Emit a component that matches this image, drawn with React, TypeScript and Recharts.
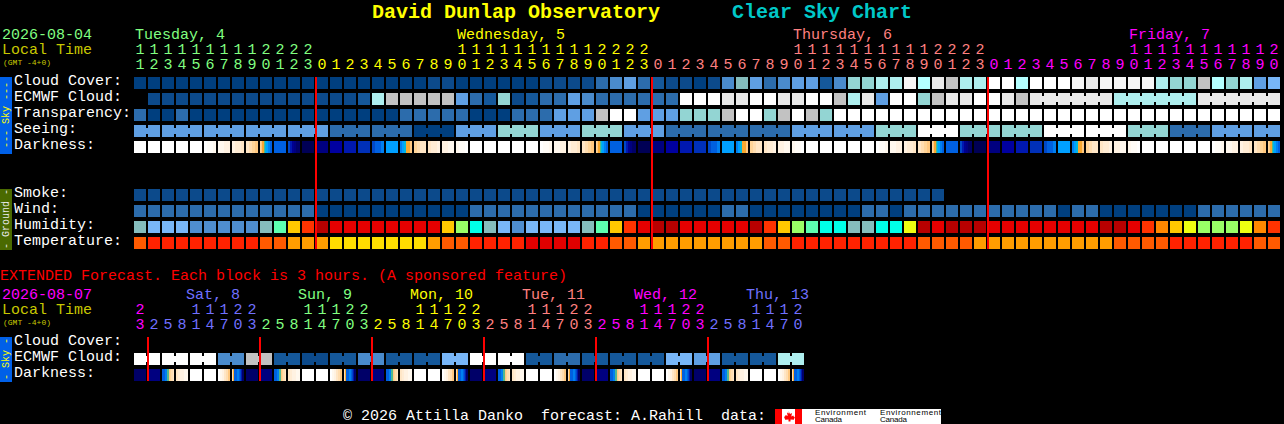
import React from 'react';
import { ScatterChart, Scatter, XAxis, YAxis, ReferenceLine } from 'recharts';

// ---------- shades (styles, looked up by level) ----------
const SKY = ['#003f7f','#0c4a8b','#15589a','#2c6cac','#4a8bcc','#5f9fe3','#78b6f7','#85bdbd','#93d5d3','#aeeeee','#b4ffff','#c2c2c2','#e9e9e9','#f6f6f6','#ffffff'];
const DARK = ['#ffffff','#fffcf7','#fff8ee','#fff2e2','#ffecd4','#ffe6c6','#ffddb0','#ffd498','#ffc880','#f8a830','#50b890','#00b8e0','#00a0ff','#0080f0','#0060e0','#0048c8','#0030b8','#0018b0','#0000a0','#000090','#000080','#000068','#000055'];
const HUM = ['#79b7f7','#4f8ed0','#85bdbd','#5dffb0','#00ffe8','#99ff66','#eeff11','#ffc800','#ff8800','#ff3300','#e60000','#b80000'];
const TEMP = ['#e00000','#ff2200','#ff5a00','#ff9d00','#ffdd00'];

// ---------- main forecast rows, one value per hour ----------
const hoursMain = [11,12,13,14,15,16,17,18,19,20,21,22,23,
  0,1,2,3,4,5,6,7,8,9,10,11,12,13,14,15,16,17,18,19,20,21,22,23,
  0,1,2,3,4,5,6,7,8,9,10,11,12,13,14,15,16,17,18,19,20,21,22,23,
  0,1,2,3,4,5,6,7,8,9,10,11,12,13,14,15,16,17,18,19,20];
const cloudCover = [0,0,0,0,0,0,0,0,0,0,0,0,0,0,0,0,0,0,0,0,0,1,1,0,0,0,0,0,0,1,1,1,1,3,4,5,3,2,1,1,0,1,4,7,5,3,4,5,5,2,4,8,8,9,9,13,10,12,11,9,9,14,14,10,14,14,14,13,12,13,13,13,13,9,8,8,11,10,8,9,5,6];
const ecmwfCloud = [null,1,1,1,1,1,1,1,1,1,1,1,1,1,1,1,2,9,11,11,11,11,11,5,3,2,8,1,2,3,3,5,4,3,3,3,3,3,3,14,14,14,12,12,14,14,12,12,14,14,11,9,12,5,14,14,8,11,12,12,14,14,12,11,12,12,12,12,12,12,9,9,9,9,9,9,12,12,12,12,12,12];
const ecmwfRuns = [1,1,1,1,1,1,1,1,1,1,1,1,1,1,1,1,1,1,1,1,1,1,1,1,1,1,1,1,1,1,1,1,1,1,1,1,1,1,1,1,1,1,1,1,1,1,1,1,1,1,1,1,1,1,1,1,1,1,1,1,1,1,1,1,6,6,6];
const transparency = [3,0,0,3,0,0,0,0,0,0,0,0,0,0,0,0,0,0,0,3,3,3,3,3,0,0,0,3,3,3,5,5,5,11,14,14,5,5,5,8,8,8,11,14,14,8,11,14,11,8,14,14,14,14,14,14,14,14,14,14,14,14,14,14,14,14,14,14,14,14,14,14,14,14,14,14,14,14,14,14,14,14];
const seeing = [5,5,5,5,5,5,5,5,5,5,5,5,5,5,3,3,3,3,3,3,0,0,0,5,5,5,8,8,8,5,5,5,8,8,8,5,5,5,3,3,3,3,3,3,3,3,3,5,5,5,5,5,5,8,8,8,14,14,14,8,8,8,8,8,8,14,14,14,14,14,14,8,8,8,3,3,3,5,5,5,5,5];
const seeingRuns = [2,3,3,3,3,3,3,3,3,3,3,3,3,3,3,3,3,3,3,3,3,3,3,3,3,3,3,2];
const dusk = [7,8,9,9,10,11,12,12,13,13,14,14];
const dawn = [13,12,11,9,9,8];
const darkness = [
  [0],[0],[0],[0],[0],[0,1,1,2],[2,2,3,3],[3,4,4,5],[5,6,7,8],dusk,[14],[15,17,19,20,21,21],[22],[20],[18],[17],[16],[15,14,14,13],[12],dawn,[7,6,5,5],[5,4,4,3],[3,3,2,2],[2,1,1,0],
  [0],[0],[0],[0],[0],[0,1,1,2],[2,2,3,3],[3,4,4,5],[5,6,7,8],dusk,[14],[15,17,19,20,21,21],[22],[20],[18],[17],[16],[15,14,14,13],[12],dawn,[7,6,5,5],[5,4,4,3],[3,3,2,2],[2,1,1,0],
  [0],[0],[0],[0],[0],[0,1,1,2],[2,2,3,3],[3,4,4,5],[5,6,7,8],dusk,[14],[15,17,19,20,21,21],[22],[20],[18],[17],[16],[15,14,14,13],[12],dawn,[7,6,5,5],[5,4,4,3],[3,3,2,2],[2,1,1,0],
  [0],[0],[0],[0],[0],[0,1,1,2],[2,2,3,3],[3,4,4,5],[5,6,7,8],dusk,
];
const smoke = [1,1,1,1,1,1,1,1,1,1,1,1,1,1,1,1,1,1,1,1,1,1,1,1,1,1,1,1,1,1,1,1,1,1,1,1,1,1,1,1,1,1,1,1,1,1,1,1,1,1,1,1,1,1,1,1,1,1];
const wind = [3,3,3,3,3,3,3,3,3,3,3,3,3,0,0,0,0,0,0,0,0,0,0,0,3,3,3,3,3,3,3,3,3,3,3,3,0,0,0,0,0,0,3,3,0,0,0,0,0,0,0,0,3,3,0,3,3,3,3,3,3,3,3,3,3,3,0,3,3,0,0,0,0,0,0,0,3,3,3,3,3,3];
const humidity = [2,0,0,0,1,1,1,1,1,2,3,7,9,11,10,10,10,10,10,10,10,10,7,5,4,2,0,1,0,0,0,0,2,3,7,9,10,11,11,10,10,10,10,10,11,9,7,5,3,4,4,2,2,4,4,6,11,10,11,11,11,10,10,10,10,10,10,10,10,11,11,10,9,8,7,6,5,5,5,6,8,9];
const temperature = [2,1,1,1,1,1,1,1,1,2,2,3,3,3,4,4,4,4,4,4,4,3,2,2,1,1,1,1,0,0,0,0,1,1,2,2,3,3,3,3,3,3,3,3,3,2,2,1,1,1,1,1,1,1,1,1,2,2,2,2,3,3,3,3,3,3,3,3,3,3,2,2,2,2,1,1,1,1,1,1,2,2];

// ---------- extended forecast rows, one value per 3-hour block ----------
const hoursExt = [23,2,5,8,11,14,17,20,23,2,5,8,11,14,17,20,23,2,5,8,11,14,17,20,23,2,5,8,11,14,17,20,23,2,5,8,11,14,17,20,23,2,5,8,11,14,17,20];
const ecmwfExt = [14,14,14,14,14,14,4,4,11,11,2,2,1,1,2,2,4,4,2,2,2,2,6,6,14,14,14,14,2,2,3,3,2,2,2,2,2,2,6,6,5,5,2,2,2,2,9,9];
const ecmwfExtRuns = [2,2,2,2,2,2,2,2,2,2,2,2,2,2,2,2,2,2,2,2,2,2,2,2];
const extDawn = [14,14,14,13,13,10,10,8,7,6,6,5];
const extDusk = [6,9,14,14,14,13,13,14,15,17,21,21];
const darknessExt = [
  [21],[20],extDawn,[5,4,3,3,2,2],[0],[0],[0,2,3,5,6,8],extDusk,
  [21],[20],extDawn,[5,4,3,3,2,2],[0],[0],[0,2,3,5,6,8],extDusk,
  [21],[20],extDawn,[5,4,3,3,2,2],[0],[0],[0,2,3,5,6,8],extDusk,
  [21],[20],extDawn,[5,4,3,3,2,2],[0],[0],[0,2,3,5,6,8],extDusk,
  [21],[20],extDawn,[5,4,3,3,2,2],[0],[0],[0,2,3,5,6,8],extDusk,
  [21],[20],extDawn,[5,4,3,3,2,2],[0],[0],[0,2,3,5,6,8],extDusk,
];

// ---------- labels ----------
const mainDays = ['Tuesday, 4','Wednesday, 5','Thursday, 6','Friday, 7'];
const mainDayCols = [0, 23, 47, 71];
const mainDaySpans = [13, 24, 24, 21];
const extDays = ['Sat, 8','Sun, 9','Mon, 10','Tue, 11','Wed, 12','Thu, 13'];
const extDayCols = [3.65, 11.65, 19.65, 27.65, 35.65, 43.65];
const extDaySpans = [1, 8, 8, 8, 8, 8, 7];
const midnightsMain = [13, 37, 61];
const midnightsExt = [1, 9, 17, 25, 33, 41];
const rowTicks = [0, 1, 2, 3, 4, 7, 8, 9, 10, 16.25, 17.25, 18.25];
const rowNames = ['Cloud Cover:','ECMWF Cloud:','Transparency:','Seeing:','Darkness:','Smoke:','Wind:','Humidity:','Temperature:','Cloud Cover:','ECMWF Cloud:','Darkness:'];

// ---------- colours of the day bands ----------
const MAIN_DAY_COLORS = ['#80ff80', '#ffff00', '#ff8080', '#ff00ff'];
const EXT_DAY_COLORS = ['#ff00ff', '#7070ff', '#80ff80', '#ffff00', '#ff8080', '#ff00ff', '#7070ff'];

// ---------- geometry ----------
const W = 1284, H = 424;
const PITCH_X = 14, CELL = 12;
const FONT = '"Liberation Mono", monospace';

const joinsOf = (runs: number[]) => {
  const out: boolean[] = [];
  runs.forEach((n) => { for (let i = 0; i < n; i++) out.push(i < n - 1); });
  return out;
};
const cellRow = (y: number, vals: any[], runs?: number[]) => {
  const joins = runs ? joinsOf(runs) : [];
  return vals.map((v, x) => ({ x, y, levels: Array.isArray(v) ? v : v === null ? [] : [v], join: !!joins[x] }));
};

const CellMark = ({ cx, cy, payload, palette }: any) => {
  const ls: number[] = payload.levels;
  if (!ls.length) return null;
  const w = CELL / ls.length;
  return (
    <g shapeRendering="crispEdges">
      {ls.map((l, i) => <rect key={i} x={cx + i * w} y={cy} width={w + (i < ls.length - 1 ? 0.3 : 0)} height={CELL} fill={palette[l]} />)}
      {payload.join && <rect x={cx + CELL} y={cy + 3} width={PITCH_X - CELL} height={CELL / 2} fill={palette[ls[ls.length - 1]]} />}
    </g>
  );
};
const TextMark = ({ cx, cy, payload }: any) => (
  <text x={cx + (payload.anchor === 'start' ? 1 : CELL / 2)} y={cy} fill={payload.color} fontFamily={FONT} fontSize={15}
    textAnchor={payload.anchor} style={{ whiteSpace: 'pre' }}>{payload.text}</text>
);
const RowTick = ({ y, payload }: any) => (
  <text x={14} y={y + 8} fill="#ffffff" fontFamily={FONT} fontSize={15}>{rowNames[rowTicks.indexOf(payload.value)]}</text>
);

const spanColors = (spans: number[], colors: string[]) => {
  const out: string[] = [];
  spans.forEach((n, d) => { for (let i = 0; i < n; i++) out.push(colors[d]); });
  return out;
};
const hourLabels = (hours: number[], colors: string[], rowTens: number, rowUnits: number) => {
  const out: any[] = [];
  hours.forEach((h, x) => {
    if (h >= 10) out.push({ x, y: rowTens, text: String(Math.floor(h / 10)), color: colors[x], anchor: 'middle' });
    out.push({ x, y: rowUnits, text: String(h % 10), color: colors[x], anchor: 'middle' });
  });
  return out;
};

const mainColors = spanColors(mainDaySpans, MAIN_DAY_COLORS);
const extColors = spanColors(extDaySpans, EXT_DAY_COLORS);
const labelData = [
  ...hourLabels(hoursMain, mainColors, -1.4375, -0.5),
  ...hourLabels(hoursExt, extColors, 14.8125, 15.75),
  ...mainDays.map((text, i) => ({ x: mainDayCols[i], y: -2.375, text, color: MAIN_DAY_COLORS[i], anchor: 'start' })),
  ...extDays.map((text, i) => ({ x: extDayCols[i], y: 13.875, text, color: EXT_DAY_COLORS[i + 1], anchor: 'start' })),
];

const rows: { data: any[]; palette: string[] }[] = [
  { data: cellRow(0, cloudCover), palette: SKY },
  { data: cellRow(1, ecmwfCloud, ecmwfRuns), palette: SKY },
  { data: cellRow(2, transparency), palette: SKY },
  { data: cellRow(3, seeing, seeingRuns), palette: SKY },
  { data: cellRow(4, darkness), palette: DARK },
  { data: cellRow(7, smoke), palette: SKY },
  { data: cellRow(8, wind), palette: SKY },
  { data: cellRow(9, humidity), palette: HUM },
  { data: cellRow(10, temperature), palette: TEMP },
  { data: cellRow(17.25, ecmwfExt, ecmwfExtRuns), palette: SKY },
  { data: cellRow(18.25, darknessExt), palette: DARK },
];

const T = ({ x, y, c, s = 15, children, ...rest }: any) => (
  <text x={x} y={y} fill={c} fontFamily={FONT} fontSize={s} style={{ whiteSpace: 'pre' }} {...rest}>{children}</text>
);
const Env = ({ x, y, len, children }: any) => (
  <text x={x} y={y} fontFamily='"Liberation Sans", sans-serif' fontSize={8} fill="#000" textLength={len}>{children}</text>
);

const Overlay = () => (
  <svg width={W} height={H} style={{ position: 'absolute', left: 0, top: 0 }}>
    <T x={372} y={18} c="#ffff00" s={20} fontWeight="bold">David Dunlap Observatory</T>
    <T x={732} y={18} c="#00c8c8" s={20} fontWeight="bold">Clear Sky Chart</T>
    <T x={2} y={39} c="#80ff80">2026-08-04</T>
    <T x={2} y={54} c="#c8c800">Local Time</T>
    <T x={3} y={65} c="#c8c800" s={8}>(GMT -4+0)</T>
    <T x={0} y={280} c="#ff0000">EXTENDED Forecast. Each block is 3 hours. (A sponsored feature)</T>
    <T x={2} y={299} c="#ff00ff">2026-08-07</T>
    <T x={2} y={314} c="#c8c800">Local Time</T>
    <T x={3} y={325} c="#c8c800" s={8}>(GMT -4+0)</T>

    <rect x={0} y={77} width={12} height={77} fill="#0060e8" />
    <T x={9} y={115} c="#ffff00" s={10} textAnchor="middle" transform="rotate(-90 9 115)">--- Sky ---</T>
    <rect x={0} y={189} width={12} height={61} fill="#4a6a00" />
    <T x={9} y={219} c="#e8e8e8" s={10} textAnchor="middle" transform="rotate(-90 9 219)">- Ground -</T>
    <rect x={0} y={337} width={12} height={45} fill="#0060e8" />
    <T x={9} y={359} c="#ffff00" s={10} textAnchor="middle" transform="rotate(-90 9 359)">- Sky -</T>

    <T x={343} y={420} c="#ffffff">© 2026 Attilla Danko  forecast: A.Rahill  data:</T>
    <rect x={775} y={409} width={166} height={15} fill="#ffffff" />
    <rect x={775} y={409} width={7} height={15} fill="#ff0000" />
    <rect x={795} y={409} width={7} height={15} fill="#ff0000" />
    <path d="M788.5 411l1.5 3 2-1-.7 3.5 2-1 .7 1.5 1-.3-1.2 3-3.3-.3v2h-2v-2l-3.3.3-1.2-3 1-.3.7-1.5 2 1-.7-3.5 2 1z" fill="#ff0000" />
    <Env x={815} y={415} len={51}>Environment</Env>
    <Env x={815} y={422} len={27}>Canada</Env>
    <Env x={880} y={415} len={61}>Environnement</Env>
    <Env x={880} y={422} len={27}>Canada</Env>
  </svg>
);

export default function App() {
  return (
    <div style={{ position: 'absolute', left: 0, top: 0, width: W, height: H, background: '#000', overflow: 'hidden' }}>
      <Overlay />
      <div style={{ position: 'absolute', left: 0, top: 0 }}>
        <ScatterChart width={W} height={H} margin={{ top: 13, right: 2, bottom: 11, left: 0 }}>
          <XAxis type="number" dataKey="x" domain={[0, 82]} hide allowDataOverflow />
          <YAxis type="number" dataKey="y" domain={[-4, 21]} reversed width={134} ticks={rowTicks} interval={0}
            tick={<RowTick />} tickLine={false} axisLine={false} />
          {rows.map((r, i) => (
            <Scatter key={i} data={r.data} isAnimationActive={false}
              shape={(p: any) => <CellMark {...p} palette={r.palette} />} />
          ))}
          <Scatter data={labelData} isAnimationActive={false} shape={(p: any) => <TextMark {...p} />} />
          {midnightsMain.map((m) => (
            <ReferenceLine key={m} segment={[{ x: m, y: 0 }, { x: m, y: 10.75 }]} stroke="#ff0000" strokeWidth={2} ifOverflow="visible" zIndex={2000} />
          ))}
          {midnightsExt.map((m) => (
            <ReferenceLine key={m} segment={[{ x: m, y: 16.25 }, { x: m, y: 19 }]} stroke="#ff0000" strokeWidth={2} ifOverflow="visible" zIndex={2000} />
          ))}
        </ScatterChart>
      </div>
    </div>
  );
}
